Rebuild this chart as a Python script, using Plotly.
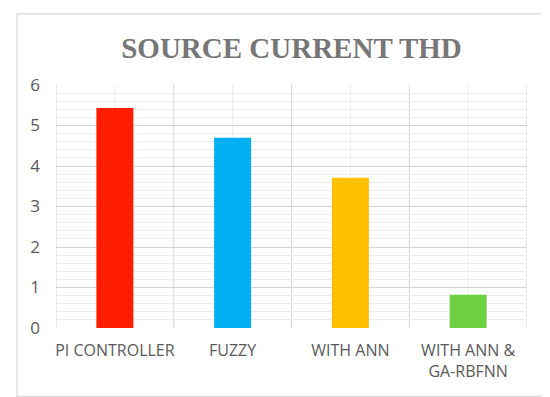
import plotly.graph_objects as go

categories = ["PI CONTROLLER", "FUZZY", "WITH ANN", "WITH ANN &<br>GA-RBFNN"]
thd_values = [5.43, 4.70, 3.71, 0.82]
bar_colors = ["#ff1e00", "#00b0f0", "#ffc000", "#6cd040"]
y_ticks = [0, 1, 2, 3, 4, 5, 6]

fig = go.Figure()
fig.add_trace(go.Bar(
    x=list(range(len(categories))),
    y=thd_values,
    marker=dict(color=bar_colors, line=dict(width=0)),
    width=0.314,
    hoverinfo="x+y",
))

# light gridlines at category centres and darker lines at category boundaries
shapes = []
for i in range(len(categories)):
    shapes.append(dict(type="line", xref="x", yref="y", x0=i, x1=i, y0=0, y1=6,
                       line=dict(color="#ececec", width=1), layer="below"))
for b in range(len(categories) + 1):
    shapes.append(dict(type="line", xref="x", yref="y", x0=b - 0.5, x1=b - 0.5, y0=0, y1=6,
                       line=dict(color="#d4d4d4", width=1), layer="below"))
# outer chart border
shapes.append(dict(type="rect", xref="paper", yref="paper",
                   x0=-0.0828, x1=1.0467, y0=-0.281, y1=1.2925,
                   line=dict(color="#d9d9d9", width=1.2), fillcolor="rgba(0,0,0,0)"))

fig.update_layout(
    width=550, height=397,
    margin=dict(l=48, r=31, t=77, b=77),
    paper_bgcolor="white", plot_bgcolor="white",
    showlegend=False,
    title=dict(text="<b>SOURCE CURRENT THD</b>", x=0.5, xref="paper", xanchor="center",
               y=0.9, yanchor="middle",
               font=dict(family="Liberation Serif", size=29, color="#767676")),
    font=dict(family="Open Sans", color="#595959"),
    shapes=shapes,
    bargap=0.686,
)
fig.update_xaxes(
    range=[-0.5, 3.5], tickmode="array", tickvals=list(range(len(categories))),
    ticktext=categories, showgrid=False, zeroline=False, showline=False,
    ticks="", tickfont=dict(size=16, color="#595959"), ticklabelstandoff=11,
    fixedrange=True,
)
fig.update_yaxes(
    range=[0, 6], tickmode="array", tickvals=y_ticks, ticktext=[str(v) for v in y_ticks],
    showgrid=True, gridcolor="#d4d4d4", gridwidth=1,
    minor=dict(dtick=0.2, showgrid=True, gridcolor="#ececec", gridwidth=1),
    zeroline=False, showline=False, ticks="",
    tickfont=dict(size=17, color="#595959"), ticklabelstandoff=15,
    fixedrange=True,
)

fig.write_html("out.html")
